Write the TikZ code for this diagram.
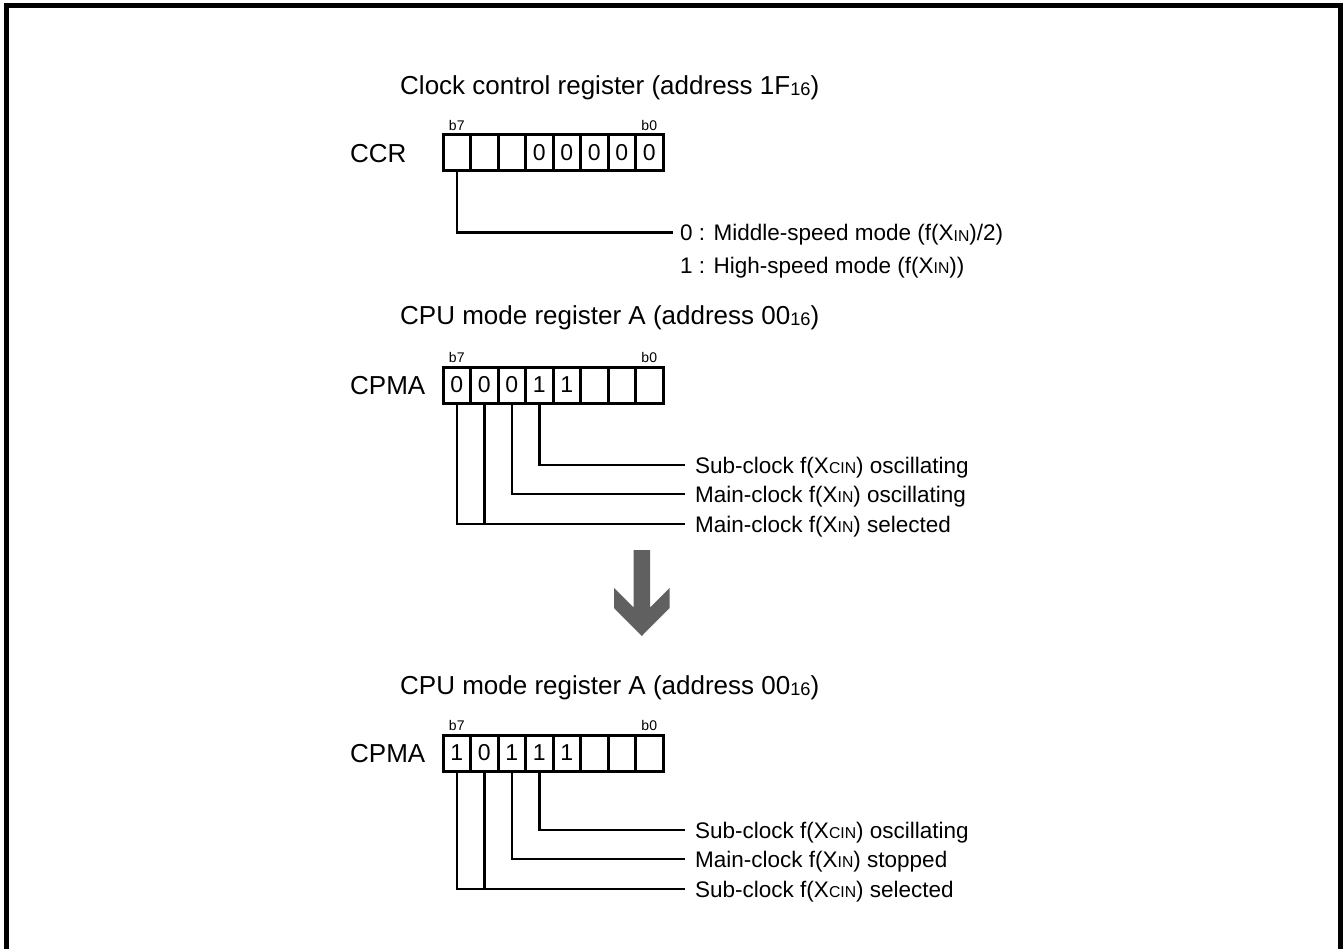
\documentclass[tikz,border=0pt]{standalone}
\usepackage{fontspec}
\setmainfont{Liberation Sans}
\definecolor{arrowgray}{RGB}{96,96,96}
\newcommand\smallsub[1]{\raisebox{-0.04em}{\scalebox{0.7}{#1}}}
\begin{document}
\begin{tikzpicture}[x=1pt,y=-1pt,
  cell/.style={draw,line width=3pt,minimum width=27.5pt,minimum height=36pt,inner sep=0pt,outer sep=0pt,font=\fontsize{23}{23}\selectfont},
  regtitle/.style={anchor=west,inner sep=0pt,text height=18.6pt,text depth=0pt,font=\fontsize{26}{26}\selectfont},
  reglbl/.style={regtitle},
  bitlbl/.style={inner sep=0pt,font=\fontsize{14}{14}\selectfont},
  desc/.style={anchor=west,inner xsep=10pt,inner ysep=0pt,text height=16.1pt,text depth=0pt,font=\fontsize{22.5}{22.5}\selectfont},
  conn/.style={line width=2.5pt},
]
\useasboundingbox (0,0) rectangle (1343,949);
% frame (open at the bottom)
\draw[line width=5pt] (6,960) -- (6,6) -- (1340,6) -- (1340,960);

% ---------- Clock control register ----------
\node[regtitle] (title1) at (400,85) {Clock control register (address 1F\smallsub{16})};
\node[reglbl] (ccr) at (350,153) {CCR};
\foreach \i/\v in {0/,1/,2/,3/0,4/0,5/0,6/0,7/0}
  \node[cell] (a\i) at ({456.75+27.5*\i},153) {\v};
\node[bitlbl] (ab7) at ([yshift=9.5pt]a0.north) {b7};
\node[bitlbl] (ab0) at ([yshift=9.5pt]a7.north) {b0};
\node[desc,inner xsep=7pt] (m0) at (673,232.5) {0 : Middle-speed mode (f(X\smallsub{IN})/2)};
\node[desc,inner xsep=7pt] (m1) at (673,265) {1 : High-speed mode (f(X\smallsub{IN}))};
\draw[conn] (a0.south) |- (m0.west);

% ---------- CPU mode register A (before) ----------
\node[regtitle] (title2) at (400,315) {CPU mode register A (address 00\smallsub{16})};
\node[reglbl] (cpma1) at (350,385) {CPMA};
\foreach \i/\v in {0/0,1/0,2/0,3/1,4/1,5/,6/,7/}
  \node[cell] (b\i) at ({456.75+27.5*\i},385) {\v};
\node[bitlbl] (bb7) at ([yshift=9.5pt]b0.north) {b7};
\node[bitlbl] (bb0) at ([yshift=9.5pt]b7.north) {b0};
\node[desc] (s1) at (685,465) {Sub-clock f(X\smallsub{CIN}) oscillating};
\node[desc] (s2) at (685,494) {Main-clock f(X\smallsub{IN}) oscillating};
\node[desc] (s3) at (685,524) {Main-clock f(X\smallsub{IN}) selected};
\draw[conn] (b3.south) |- (s1.west);
\draw[conn] (b2.south) |- (s2.west);
\draw[conn] (b0.south) |- (s3.west);
\draw[conn] (b1.south) -- (b1.south |- s3.west);

% ---------- arrow ----------
\fill[arrowgray] (633.5,550) -- (650,550) -- (650,607.5) -- (669.5,588) -- (669.5,608)
  -- (641.75,636) -- (614,608) -- (614,588) -- (633.5,607.5) -- cycle;

% ---------- CPU mode register A (after) ----------
\node[regtitle] (title3) at (400,685) {CPU mode register A (address 00\smallsub{16})};
\node[reglbl] (cpma2) at (350,753) {CPMA};
\foreach \i/\v in {0/1,1/0,2/1,3/1,4/1,5/,6/,7/}
  \node[cell] (c\i) at ({456.75+27.5*\i},753) {\v};
\node[bitlbl] (cb7) at ([yshift=9.5pt]c0.north) {b7};
\node[bitlbl] (cb0) at ([yshift=9.5pt]c7.north) {b0};
\node[desc] (u1) at (685,830) {Sub-clock f(X\smallsub{CIN}) oscillating};
\node[desc] (u2) at (685,859) {Main-clock f(X\smallsub{IN}) stopped};
\node[desc] (u3) at (685,889) {Sub-clock f(X\smallsub{CIN}) selected};
\draw[conn] (c3.south) |- (u1.west);
\draw[conn] (c2.south) |- (u2.west);
\draw[conn] (c0.south) |- (u3.west);
\draw[conn] (c1.south) -- (c1.south |- u3.west);
\end{tikzpicture}
\end{document}
